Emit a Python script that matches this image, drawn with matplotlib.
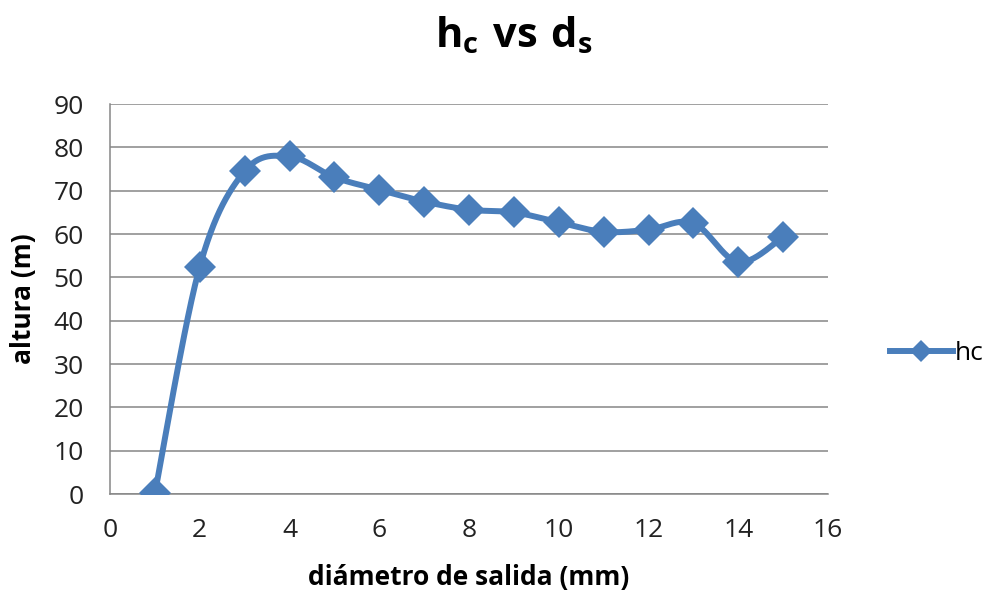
import numpy as np
import matplotlib
matplotlib.use("Agg")
import matplotlib.pyplot as plt
from matplotlib.lines import Line2D

plt.rcParams['font.family'] = ['Open Sans', 'DejaVu Sans']
plt.rcParams['mathtext.fontset'] = 'custom'
plt.rcParams['mathtext.bf'] = 'Open Sans:bold'
plt.rcParams['mathtext.rm'] = 'Open Sans:bold'

# data
diametro = [1, 2, 3, 4, 5, 6, 7, 8, 9, 10, 11, 12, 13, 14, 15]
hc = [0.2, 52.5, 74.5, 77.9, 73.1, 70.2, 67.5, 65.6, 65.0, 62.7, 60.5, 61.0, 62.5, 53.5, 59.3]

BLUE = '#4A7EBB'
GRAY = '#868686'


def smooth(xs, ys, n=30):
    # Excel-style smoothed line (cubic Bezier, Catmull-Rom control points)
    p = np.column_stack([xs, ys]).astype(float)
    out = []
    for i in range(len(p) - 1):
        p0 = p[i - 1] if i > 0 else p[i]
        p3 = p[i + 2] if i + 2 < len(p) else p[i + 1]
        c1 = p[i] + (p[i + 1] - p0) / 6
        c2 = p[i + 1] - (p3 - p[i]) / 6
        t = np.linspace(0, 1, n)[:, None]
        seg = ((1 - t) ** 3 * p[i] + 3 * (1 - t) ** 2 * t * c1
               + 3 * (1 - t) * t ** 2 * c2 + t ** 3 * p[i + 1])
        out.append(seg if i == 0 else seg[1:])
    out = np.vstack(out)
    return out[:, 0], out[:, 1]


fig = plt.figure(figsize=(9.92, 5.96), dpi=100)
ax = fig.add_axes([0.1109, 0.1711, 0.7238, 0.6544])

sx, sy = smooth(diametro, hc)
ax.plot(sx, sy, color=BLUE, lw=4.3, solid_capstyle='round', zorder=3)
ax.plot(diametro, hc, ls='none', marker='D', ms=16.5, color=BLUE, mew=0, zorder=4)

ax.set_xlim(0, 16)
ax.set_ylim(0, 90)
ax.set_xticks(range(0, 17, 2))
ax.set_yticks(range(0, 91, 10))
ax.yaxis.grid(True, color=GRAY, lw=1.1)
ax.set_axisbelow(True)
for s in ['top', 'right']:
    ax.spines[s].set_visible(False)
for s in ['left', 'bottom']:
    ax.spines[s].set_color(GRAY)
    ax.spines[s].set_linewidth(1.1)
ax.tick_params(axis='y', length=0, labelsize=19, pad=19, labelcolor='#222222')
ax.tick_params(axis='x', length=0, labelsize=19, pad=17, labelcolor='#222222')

ax.set_xlabel('diámetro de salida (mm)', fontsize=19, fontweight='bold', va='center')
ax.xaxis.set_label_coords(0.5, -0.215)
ax.set_ylabel('altura (m)', fontsize=19, fontweight='bold', va='center')
ax.yaxis.set_label_coords(-0.121, 0.5)

fig.text(0.518, 0.921, r'$\mathbf{h_c\ vs\ d_s}$', fontsize=30, ha='center', va='baseline')

handle = Line2D([], [], color=BLUE, lw=4.3, marker='D', ms=11, mew=0)
ax.legend([handle], ['hc'], loc='center left', bbox_to_anchor=(1.086, 0.36),
          frameon=False, fontsize=19, handlelength=2.4, handletextpad=0.08,
          borderpad=0, borderaxespad=0)

fig.savefig('out.png', dpi=100)
